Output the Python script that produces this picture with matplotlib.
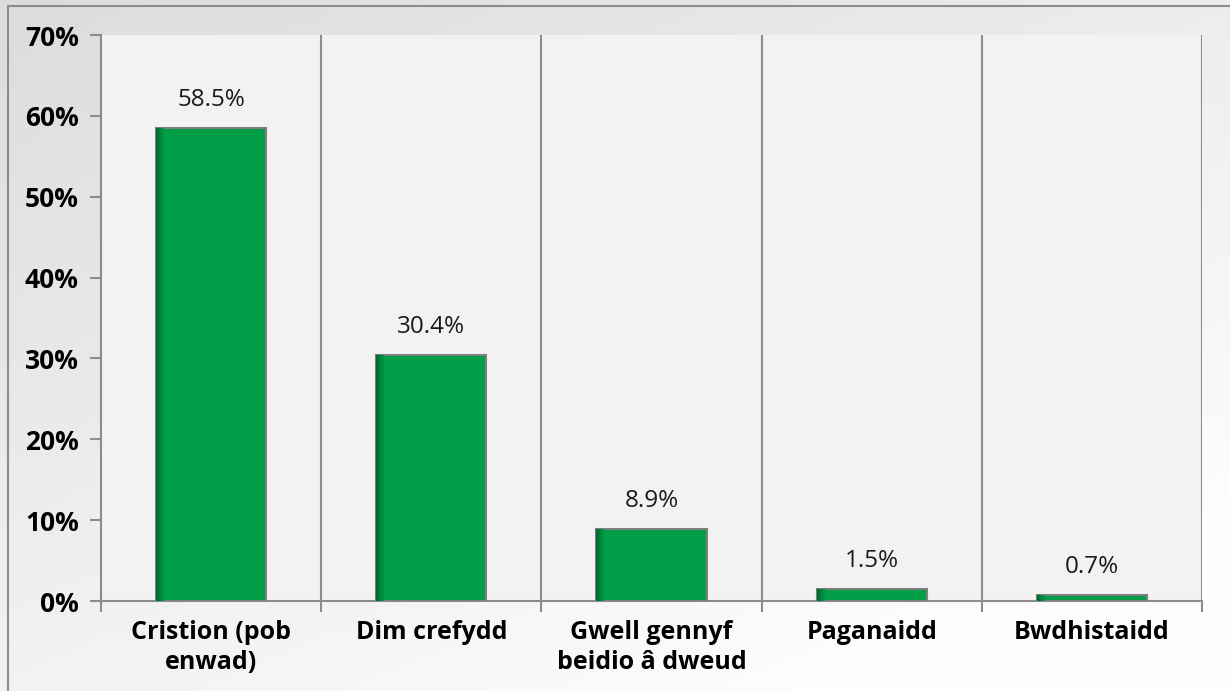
import numpy as np
import matplotlib.pyplot as plt
from matplotlib.lines import Line2D

categories = ["Cristion (pob\nenwad)", "Dim crefydd", "Gwell gennyf\nbeidio â dweud",
              "Paganaidd", "Bwdhistaidd"]
values = [58.5, 30.4, 8.9, 1.5, 0.7]
labels = ["58.5%", "30.4%", "8.9%", "1.5%", "0.7%"]
yticks = [0, 10, 20, 30, 40, 50, 60, 70]

plt.rcParams['font.family'] = ['Open Sans', 'DejaVu Sans']

fig = plt.figure(figsize=(12.3, 6.91), dpi=100)

# gradient background for the whole figure
bg = fig.add_axes([0, 0, 1, 1], zorder=-10)
gx, gy = np.meshgrid(np.linspace(0, 1, 200), np.linspace(0, 1, 120))
grad = 0.86 + 0.13 * np.clip((gx * 0.6 + gy * 0.8) / 1.2, 0, 1)
bg.imshow(grad, cmap='gray', vmin=0, vmax=1, aspect='auto', extent=[0, 1, 0, 1], origin='upper')
bg.set_xlim(0, 1)
bg.set_ylim(0, 1)
bg.axis('off')
fig.add_artist(Line2D([8 / 1230, 8 / 1230], [0, 1 - 6 / 691], color='#8c8c8c', lw=1.5))
fig.add_artist(Line2D([8 / 1230, 1], [1 - 6 / 691, 1 - 6 / 691], color='#8c8c8c', lw=1.5))

ax = fig.add_axes([101 / 1230, 1 - 601 / 691, (1202 - 101) / 1230, (601 - 35) / 691])
ax.set_facecolor('#f2f2f2')

x = np.arange(len(categories))
ax.bar(x, values, width=0.5, color='#009e47', edgecolor='#7f7f7f', linewidth=1.5, zorder=3)
# soft shading along the left side of each bar
shades = ['#006b2f', '#007a36', '#00883d', '#009242']
for k, c in enumerate(shades):
    ax.bar(x - 0.25 + k * 0.009, values, width=0.009, align='edge', color=c,
           linewidth=0, zorder=4)
for xi, v, lab in zip(x, values, labels):
    ax.text(xi, v + 2.0, lab, ha='center', va='bottom', fontsize=17.5, color='#1a1a1a')

ax.set_xlim(-0.5, len(categories) - 0.5)
ax.set_ylim(0, 70)
ax.set_yticks(yticks)
ax.set_yticklabels([f"{t}%" for t in yticks], fontsize=19, fontweight='bold')

# category boundaries as gridlines and ticks
bounds = np.arange(len(categories) + 1) - 0.5
ax.set_xticks(bounds)
ax.set_xticklabels([])
for b in bounds[1:]:
    ax.axvline(b, color='#8c8c8c', lw=1.5, zorder=1)
ax.set_xticks(x, minor=True)
ax.set_xticklabels(categories, minor=True, fontsize=18, fontweight='bold', linespacing=1.25)
ax.tick_params(axis='x', which='minor', length=0, pad=14)
ax.tick_params(axis='x', which='major', length=8, color='#8c8c8c', width=1.5, direction='out')
ax.tick_params(axis='y', length=8, color='#8c8c8c', width=1.5, pad=8)

for s in ['top', 'right']:
    ax.spines[s].set_visible(False)
for s in ['left', 'bottom']:
    ax.spines[s].set_color('#8c8c8c')
    ax.spines[s].set_linewidth(1.5)

fig.savefig('out.png', dpi=100)
